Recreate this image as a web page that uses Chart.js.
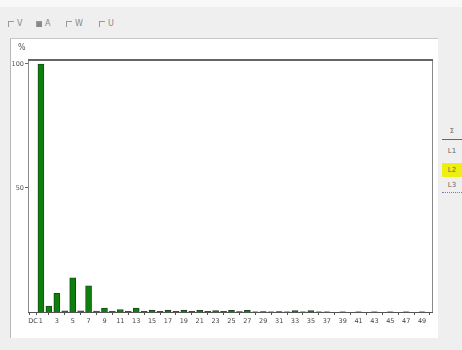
<!DOCTYPE html>
<html>
<head>
<meta charset="utf-8">
<script src="https://cdn.jsdelivr.net/npm/chart.js@4.4.1/dist/chart.umd.min.js"></script>
<style>
  html, body { margin:0; padding:0; width:462px; height:350px; background:#efefef; overflow:hidden;
    font-family: "DejaVu Sans", "Liberation Sans", sans-serif; }
  #top { position:absolute; left:0; top:0; width:462px; height:7px; background:#f8f8f8; }
  #toolbar { position:absolute; left:0; top:19px; height:12px; font-size:8px; color:#888; }
  .item { position:absolute; top:0; white-space:nowrap; }
  .cb { display:inline-block; width:5px; height:5px; border-left:1px solid #999; border-top:1px solid #999; margin-right:3px; vertical-align:middle; }
  .cb.on { background:#888; }
  #panel { position:absolute; left:10px; top:38px; width:427px; height:299px; background:#fff;
    border-left:1px solid #b8b8b8; border-top:1px solid #c8c8c8; }
  #unit { position:absolute; left:7px; top:4px; font-size:8px; color:#555; }
  #chartwrap { position:absolute; left:0; top:0; width:427px; height:299px; }
  #phases { position:absolute; left:442px; top:0; width:20px; font-size:7px; color:#666; text-align:center; }
  #phases div { position:absolute; left:0; width:20px; height:14px; line-height:14px; }
  #phases .hdr { top:124px; height:15px; border-bottom:1px solid #666; }
  #phases .sel { background:#eeee10; }
  #phases .last { border-bottom:1px dotted #7080c0; }
</style>
</head>
<body>
<div id="top"></div>
<div id="toolbar">
  <span class="item" style="left:8px"><span class="cb"></span>V</span>
  <span class="item" style="left:36px"><span class="cb on"></span>A</span>
  <span class="item" style="left:66px"><span class="cb"></span>W</span>
  <span class="item" style="left:99px"><span class="cb"></span>U</span>
</div>
<div id="panel">
  <div id="chartwrap"><canvas id="c"></canvas></div>
  <div id="unit">%</div>
</div>
<div id="phases">
  <div class="hdr">Σ</div>
  <div style="top:144px">L1</div>
  <div class="sel" style="top:163px">L2</div>
  <div class="last" style="top:178px">L3</div>
</div>
<script>
// Harmonic order (0 = DC) and amplitude in % of fundamental
const orders = [0,1,2,3,4,5,6,7,8,9,10,11,12,13,14,15,16,17,18,19,20,21,22,23,24,25,26,27,28,29,30,31,32,33,34,35,36,37,38,39,40,41,42,43,44,45,46,47,48,49];
const values = [0,100,2.4,7.5,0.5,13.8,0.5,10.6,0.4,1.6,0.3,1.0,0.3,1.6,0.3,0.8,0.3,0.8,0.3,0.8,0.3,0.7,0.3,0.6,0.3,0.7,0.2,0.7,0.1,0.2,0.1,0.2,0.1,0.6,0.1,0.6,0.1,0.1,0,0.1,0,0.1,0,0.1,0,0.1,0,0.1,0,0.1];
const xTickValues = [0,1,3,5,7,9,11,13,15,17,19,21,23,25,27,29,31,33,35,37,39,41,43,45,47,49];
const xTickLabels = ['DC','1','3','5','7','9','11','13','15','17','19','21','23','25','27','29','31','33','35','37','39','41','43','45','47','49'];
const yTickValues = [50,100];

const framePlugin = {
  id:'frame',
  afterDraw(chart){
    const {ctx, chartArea:a} = chart;
    ctx.save();
    ctx.strokeStyle = '#8a8a8a'; ctx.lineWidth = 1;
    ctx.beginPath();
    ctx.moveTo(a.left+0.5, a.bottom); ctx.lineTo(a.left+0.5, a.top);
    ctx.moveTo(a.right-0.5, a.top); ctx.lineTo(a.right-0.5, a.bottom);
    ctx.stroke();
    ctx.strokeStyle = '#666'; ctx.lineWidth = 2;
    ctx.beginPath(); ctx.moveTo(a.left, a.top+1); ctx.lineTo(a.right, a.top+1); ctx.stroke();
    ctx.strokeStyle = '#555'; ctx.lineWidth = 1;
    ctx.beginPath(); ctx.moveTo(a.left, a.bottom+0.5); ctx.lineTo(a.right, a.bottom+0.5); ctx.stroke();
    ctx.restore();
  }
};

new Chart(document.getElementById('c'), {
  type:'bar',
  data:{
    datasets:[{
      data: orders.map((o,i)=>({x:o, y:values[i]})),
      backgroundColor:'#0b800b',
      borderColor:'#1a4a1a',
      borderWidth:{left:1,right:1,top:1,bottom:0},
      barThickness:6
    }]
  },
  options:{
    responsive:true, maintainAspectRatio:false, animation:false,
    layout:{padding:{left:0,right:5,top:20,bottom:0}},
    plugins:{legend:{display:false}, tooltip:{enabled:false}},
    scales:{
      x:{
        type:'linear', min:-0.63, max:50.38, offset:false,
        border:{display:false},
        grid:{drawOnChartArea:false, drawTicks:true, tickLength:3, color:'#555'},
        afterBuildTicks(s){ s.ticks = xTickValues.map(v=>({value:v})); },
        afterFit(s){ s.height = 26; },
        ticks:{
          autoSkip:false, maxRotation:0, padding:2,
          font:{size:6.5, family:'DejaVu Sans'}, color:'#444',
          callback(v){ const i = xTickValues.indexOf(v); return i>=0 ? xTickLabels[i] : ''; }
        }
      },
      y:{
        min:0, max:102,
        border:{display:false},
        grid:{drawOnChartArea:false, drawTicks:true, tickLength:3, color:'#666'},
        afterBuildTicks(s){ s.ticks = yTickValues.map(v=>({value:v})); },
        afterFit(s){ s.width = 17; },
        ticks:{ padding:1, font:{size:6.5, family:'DejaVu Sans'}, color:'#555' }
      }
    }
  },
  plugins:[framePlugin]
});
</script>
</body>
</html>
